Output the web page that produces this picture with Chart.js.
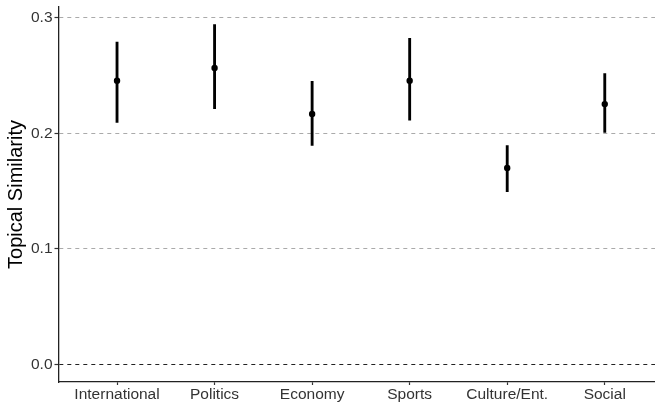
<!DOCTYPE html>
<html>
<head>
<meta charset="utf-8">
<script src="https://cdn.jsdelivr.net/npm/chart.js@4"></script>
<style>
html,body{margin:0;padding:0;background:#fff;}
canvas{display:block;}
</style>
</head>
<body>
<canvas id="c" width="655" height="404"></canvas>
<script>
const categories = ["International", "Politics", "Economy", "Sports", "Culture/Ent.", "Social"];
const meanValues = [0.2455, 0.2565, 0.2167, 0.2455, 0.1700, 0.2253];
const lowerValues = [0.2094, 0.2213, 0.1895, 0.2115, 0.1495, 0.2008];
const upperValues = [0.2790, 0.2940, 0.2449, 0.2821, 0.1895, 0.2516];
const yTickValues = [0.0, 0.1, 0.2, 0.3];

const FONT = "'Liberation Sans', Arial, sans-serif";

const pointData = categories.map((c, i) => ({ x: i + 1, y: meanValues[i] }));
const barData = categories.map((c, i) => ({ x: i + 1, y: [lowerValues[i], upperValues[i]] }));

new Chart(document.getElementById('c'), {
  type: 'bar',
  data: {
    datasets: [
      {
        type: 'scatter',
        data: pointData,
        backgroundColor: '#000',
        borderWidth: 0,
        pointRadius: 3.2,
        pointHoverRadius: 3.2
      },
      {
        type: 'bar',
        data: barData,
        backgroundColor: '#000',
        borderWidth: 0,
        barThickness: 2.2,
        borderSkipped: false
      }
    ]
  },
  options: {
    responsive: false,
    animation: false,
    devicePixelRatio: 1,
    layout: { autoPadding: false, padding: { top: 7, left: 0, right: 0, bottom: 0 } },
    plugins: { legend: { display: false }, tooltip: { enabled: false } },
    scales: {
      x: {
        type: 'linear',
        offset: false,
        min: 0.4,
        max: 6.515,
        afterBuildTicks: (s) => { s.ticks = categories.map((c, i) => ({ value: i + 1 })); },
        afterFit: (s) => { s.height = 22; s.paddingLeft = 0; s.paddingRight = 0; },
        ticks: {
          autoSkip: false,
          maxRotation: 0,
          padding: 0,
          color: '#333',
          font: { family: FONT, size: 15.5 },
          callback: (v) => categories[Math.round(v) - 1]
        },
        grid: { offset: false, drawOnChartArea: false, drawTicks: true, tickLength: 3, tickColor: '#333', tickWidth: 1.2 },
        border: { display: true, color: '#222', width: 1.3 }
      },
      y: {
        type: 'linear',
        min: -0.0151,
        max: 0.3093,
        beginAtZero: false,
        afterBuildTicks: (s) => { s.ticks = yTickValues.map(v => ({ value: v })); },
        afterFit: (s) => { s.width = 58.5; s.paddingTop = 0; s.paddingBottom = 0; },
        ticks: {
          padding: 2,
          color: '#333',
          font: { family: FONT, size: 15.5 },
          callback: (v) => Number(v).toFixed(1)
        },
        grid: {
          drawTicks: true,
          tickLength: 4,
          tickColor: '#333',
          tickWidth: 1.2,
          lineWidth: 1,
          color: (ctx) => (ctx.tick && Math.abs(ctx.tick.value) < 1e-9) ? '#222' : '#aaaaaa'
        },
        border: { display: true, color: '#222', width: 1.3, dash: [4, 4] },
        title: {
          display: true,
          text: 'Topical Similarity',
          color: '#000',
          font: { family: FONT, size: 20 },
          padding: { top: 4, bottom: 0 }
        }
      }
    }
  }
});
</script>
</body>
</html>
